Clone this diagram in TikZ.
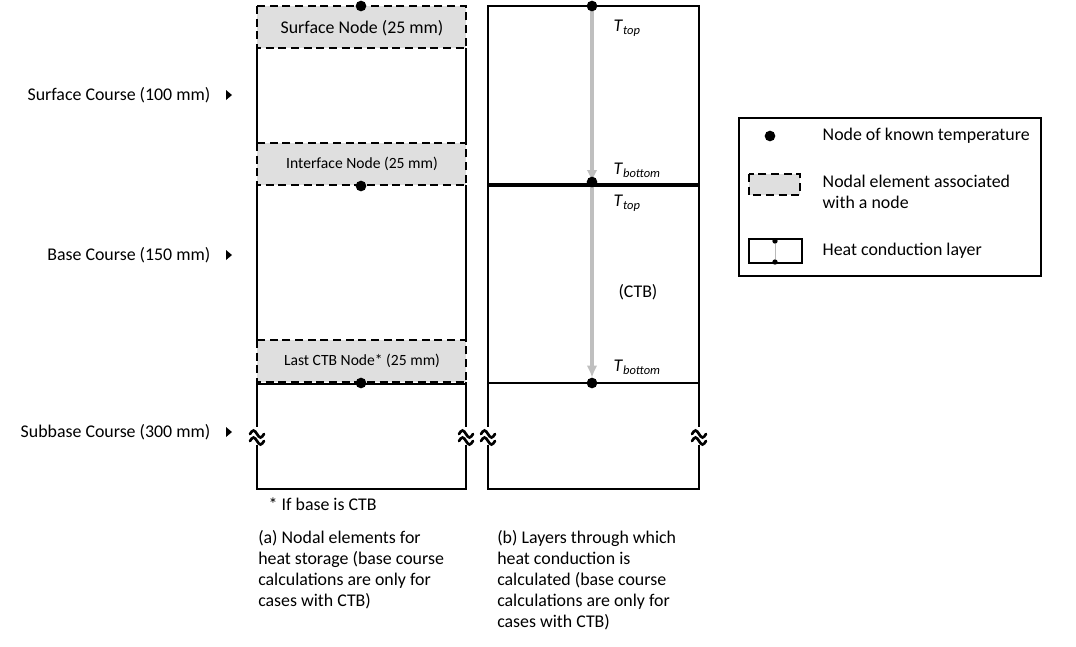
\documentclass[tikz,border=0pt]{standalone}
\usepackage{fontspec}
\setmainfont{Carlito}
\usetikzlibrary{arrows.meta}
\newcommand{\mainsize}{\fontsize{13.4}{15.75}\selectfont}
\newcommand{\nodesize}{\fontsize{11.7}{14}\selectfont}
\newcommand{\Tlab}[1]{\textit{T}\textsubscript{\textit{#1}}}
\tikzset{
  frame/.style={line width=1.4pt},
  elem/.style={draw,fill=gray!25,line width=1.3pt,dash pattern=on 6pt off 3.5pt},
  dot/.style={circle,fill=black,inner sep=0pt,minimum size=8pt},
  cond/.style={gray!50,line width=2.6pt,-{Latex[length=9pt,width=8pt]}},
  brk/.pic={
    \fill[white] (-8,-9) rectangle (8,9);
    \draw[line width=2pt,line cap=round] (-7,-2) sin (-3.5,-5.5) cos (0,-2) sin (3.5,1.5) cos (7,-2);
    \draw[line width=2pt,line cap=round] (-7,5) sin (-3.5,1.5) cos (0,5) sin (3.5,8.5) cos (7,5);
  },
  course/.style={anchor=base east},
  tlab/.style={anchor=west},
  caption/.style={anchor=north west,align=left,inner sep=0pt},
}

\begin{document}
\begin{tikzpicture}[x=0.75pt,y=-0.75pt,>=latex,font=\mainsize]
  \useasboundingbox (0,0) rectangle (1076,647);
  % ---------------- course labels on the left
  \node[course] (sc) at (215,100) {Surface Course (100 mm)};
  \node[course] (bc) at (215,260) {Base Course (150 mm)};
  \node[course] (sbc) at (215,437) {Subbase Course (300 mm)};
  \foreach \y in {95,255,432}
    \fill (226,\y-5) -- (232,\y) -- (226,\y+5) -- cycle;
  % ---------------- (a) nodal elements for heat storage
  \draw[frame] (257,48) -- (257,143) (466,48) -- (466,143);
  \draw[frame] (257,185) -- (257,340) (466,185) -- (466,340);
  \draw[frame] (257,382) -- (257,489) -- (466,489) -- (466,382);
  \draw[frame] (257,384) -- (466,384);
  \draw[elem] (257,6) rectangle (466,48);
  \draw[elem] (257,143) rectangle (466,185);
  \draw[elem] (257,340) rectangle (466,382);
  \node (sn) at (362,28) {Surface Node (25 mm)};
  \node[font=\nodesize] (in) at (362,164) {Interface Node (25 mm)};
  \node[font=\nodesize] (ln) at (362,361) {Last CTB Node* (25 mm)};
  \node[dot] (a1) at (361,6) {};
  \node[dot] (a2) at (361,186) {};
  \node[dot] (a3) at (361,383) {};
  \pic (ka) at (257,436) {brk};
  \pic (kb) at (466,436) {brk};
  \node[anchor=base west] (ctb) at (264,510) {* If base is CTB};
  \node[caption] (capa) at (258,530)
    {(a) Nodal elements for\\heat storage (base course\\calculations are only for\\cases with CTB)};
  % ---------------- (b) layers for heat conduction
  \draw[frame] (488,6) rectangle (699,489);
  \draw[line width=2.4pt] (488,185) -- (699,185);
  \draw[frame] (488,383) -- (699,383);
  \coordinate (bt) at (592,6);
  \coordinate (bm) at (592,182);
  \coordinate (bm2) at (592,187);
  \coordinate (bb) at (592,383);
  \draw[cond] (bt) -- (bm);
  \draw[cond,shorten >=4pt] (bm2) -- (bb);
  \node[dot] (b1) at (bt) {};
  \node[dot] (b2) at (bm) {};
  \node[dot] (b3) at (bb) {};
  \node[tlab] (t1) at (609,28) {\Tlab{top}};
  \node[tlab] (t2) at (609,170) {\Tlab{bottom}};
  \node[tlab] (t3) at (609,203) {\Tlab{top}};
  \node[tlab] (t4) at (609,367) {\Tlab{bottom}};
  \node (cb) at (638,292) {(CTB)};
  \pic (kc) at (488,436) {brk};
  \pic (kd) at (699,436) {brk};
  \node[caption] (capb) at (497,530)
    {(b) Layers through which\\heat conduction is\\calculated (base course\\calculations are only for\\cases with CTB)};
  % ---------------- legend
  \draw[line width=1.1pt] (739,118) rectangle (1041,276);
  \node[dot] (lg1) at (770,136) {};
  \node[anchor=west] (lt1) at (818,136) {Node of known temperature};
  \draw[elem] (749,174) rectangle (800,195);
  \node[anchor=west,align=left] (lt2) at (818,192) {Nodal element associated\\with a node};
  \draw[line width=1.3pt] (749,239) rectangle (802,263);
  \node[dot,minimum size=4pt] (lh1) at (775,241) {};
  \node[dot,minimum size=4pt] (lh2) at (775,262) {};
  \draw[gray!55,line width=0.5pt] (lh1) -- (lh2);
  \node[anchor=west] (lt3) at (818,251) {Heat conduction layer};
\end{tikzpicture}
\end{document}
